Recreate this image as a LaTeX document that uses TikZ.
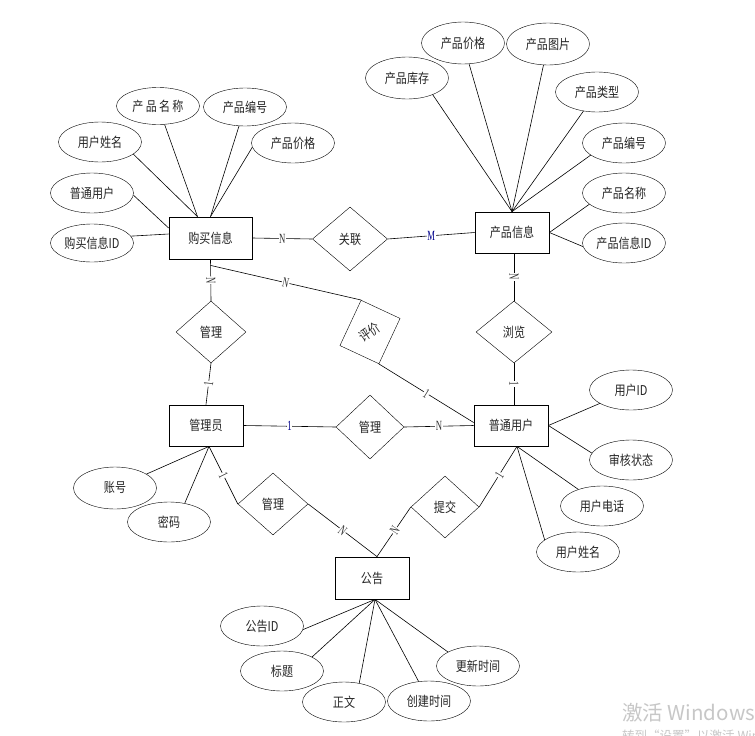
\documentclass[tikz,border=0pt]{standalone}
\usepackage{fontspec}
\setmainfont{Liberation Serif}
\newfontfamily\cjk[FakeStretch=0.82]{Noto Sans CJK SC}
\newfontfamily\cardfont[FakeStretch=0.62]{Liberation Serif}
\newfontfamily\wmfont{Noto Sans CJK SC}
\usetikzlibrary{shapes.geometric,calc}
\tikzset{
  cjktext/.style={font=\cjk\fontsize{13.5}{15}\selectfont, text=black!85},
  ent/.style={draw, thick, rectangle, minimum width=74, minimum height=41, inner sep=0, cjktext},
  rel/.style={draw, diamond, inner sep=0, aspect=1, cjktext},
  attr/.style={draw, ellipse, minimum width=83, minimum height=40, inner sep=0, cjktext},
  conn/.style={draw, line width=0.6pt},
  card/.style={fill=white, inner sep=0.6pt, font=\cardfont\fontsize{14}{14}\selectfont, text=black!80},
  slcard/.style={card, sloped},
}
\begin{document}
\begin{tikzpicture}[x=1pt,y=-1pt]
\useasboundingbox (0,0) rectangle (755,736);
\fill[white] (0,0) rectangle (755,736);

% entities
\node[ent, minimum width=83, minimum height=42] (buy) at (210.5,238) {购买信息};
\node[ent] (pinfo) at (512,232.5) {产品信息};
\node[ent] (admin) at (206,425.5) {管理员};
\node[ent] (user) at (511,425.5) {普通用户};
\node[ent, minimum height=42] (notice) at (372,578) {公告};

% relationships
\node[rel, minimum width=75, minimum height=64] (relate) at (350,239) {关联};
\node[rel, minimum width=70, minimum height=62] (mgrL) at (211,332) {管理};
\node[rel, minimum width=76, minimum height=62] (browse) at (514,332) {浏览};
\node[rel, minimum width=68, minimum height=64] (mgrM) at (370,427) {管理};
\node[rel, minimum width=70, minimum height=62] (mgrB) at (273,504) {管理};
\node[rel, minimum width=68, minimum height=62] (submit) at (445,507) {提交};
\node[draw, rectangle, rotate=-25, minimum width=43, minimum height=50, inner sep=0, cjktext] (eval) at (370,332) {\rotatebox{60}{评价}};

% helper coordinates
\coordinate (bt1) at ($(buy.north)+(-13,0)$);
\coordinate (bl1) at ($(buy.west)+(0,-10)$);
\coordinate (bl2) at ($(buy.west)+(0,-4)$);
\coordinate (bs) at ($(buy.south)+(0,6)$);
\coordinate (ub) at ($(user.south)+(6,0)$);
\coordinate (ab) at ($(admin.south)+(3,0)$);
\coordinate (ntop) at ($(notice.north)+(5,0)$);
\coordinate (nb) at ($(notice.south)+(3,0)$);

% relationship connectors
\path[conn] (buy.east) -- node[card] {N} (relate.west);
\path[conn] (relate.east) -- node[card, text=blue!55!black] {M} (pinfo.west);
\path[conn] (buy.south) -- node[slcard] {N} (mgrL.north);
\path[conn] (mgrL.south) -- node[slcard] {1} (admin.north);
\path[conn] (browse.north |- pinfo.south) -- node[slcard] {N} (browse.north);
\path[conn] (browse.south) -- node[slcard] {1} (browse.south |- user.north);
\path[conn] (admin.east) -- node[card, text=blue!55!black] {1} (mgrM.west);
\path[conn] (mgrM.east) -- node[card] {N} (user.west);
\path[conn] (bs) -- node[slcard] {N} (eval.north west);
\path[conn] (eval.south east) -- node[slcard, pos=0.5] {1} ($(user.west)+(0,-3)$);
\path[conn] (ab) -- node[slcard] {1} (mgrB.west);
\path[conn] (mgrB.east) -- node[slcard] {N} (ntop);
\path[conn] (ntop) -- node[slcard, pos=0.53] {N} (submit.west);
\path[conn] (submit.east) -- node[slcard, pos=0.53] {1} (ub);

% attributes of 购买信息
\node[attr] (a1) at (100,142) {用户姓名};
\node[attr, minimum height=37] (a2) at (158,106) {产\,品\,名\,称};
\node[attr, minimum height=38] (a3) at (245,107) {产品编号};
\node[attr] (a4) at (293,143) {产品价格};
\node[attr] (a5) at (92,193) {普通用户};
\node[attr, minimum height=38] (a6) at (92,243) {购买信息ID};
\draw[conn] (bt1) -- (a1.-20);
\draw[conn] (bt1) -- (a2);
\draw[conn] (buy.north) -- (a3);
\draw[conn] (buy.north) -- (a4.186);
\draw[conn] (bl1) -- (a5.-3);
\draw[conn] (bl2) -- (a6.10);

% attributes of 产品信息
\node[attr, minimum height=42] (b1) at (407,78) {产品库存};
\node[attr, minimum height=42] (b2) at (463,43) {产品价格};
\node[attr, minimum height=42] (b3) at (548,44) {产品图片};
\node[attr] (b4) at (597,92) {产品类型};
\node[attr] (b5) at (624,143) {产品编号};
\node[attr] (b6) at (624,193) {产品名称};
\node[attr] (b7) at (624,243) {产品信息ID};
\draw[conn] (pinfo.north) -- (b1.-33);
\draw[conn] (pinfo.north) -- (b2);
\draw[conn] (pinfo.north) -- (b3);
\draw[conn] (pinfo.north) -- (b4);
\draw[conn] (pinfo.north) -- (b5.200);
\draw[conn] (pinfo.east) -- (b6.198);
\draw[conn] (pinfo.east) -- (b7.185);

% attributes of 普通用户
\node[attr] (c1) at (631,390) {用户ID};
\node[attr] (c2) at (631,460) {审核状态};
\node[attr] (c3) at (602,506) {用户电话};
\node[attr] (c4) at (578,552) {用户姓名};
\draw[conn] (user.east) -- (c1);
\draw[conn] (user.east) -- (c2.170);
\draw[conn] (ub) -- (c3);
\draw[conn] (ub) -- (c4.160);

% attributes of 管理员
\node[attr, minimum height=42] (d1) at (115,488) {账号};
\node[attr] (d2) at (169,522) {密码};
\draw[conn] (ab) -- (d1);
\draw[conn] (ab) -- (d2.50);

% attributes of 公告
\node[attr] (e1) at (262,626) {公告ID};
\node[attr] (e2) at (282,671) {标题};
\node[attr] (e3) at (344,702) {正文};
\node[attr] (e4) at (429,701) {创建时间};
\node[attr] (e5) at (478,666) {更新时间};
\draw[conn] (nb) -- (e1.-5);
\draw[conn] (nb) -- (e2.25);
\draw[conn] (nb) -- (e3.51);
\draw[conn] (nb) -- (e4);
\draw[conn] (nb) -- (e5.155);

% watermark
\begin{scope}
\clip (0,0) rectangle (755,736);
\node[anchor=west, inner sep=0, text=black!22, font=\wmfont\fontsize{20.5}{20}\selectfont] (wm1) at (622,713) {激活 Windows};
\node[anchor=west, inner sep=0, text=black!22, font=\wmfont\fontsize{12.5}{12}\selectfont] (wm2) at (622,736) {转到“设置”以激活 Windows。};
\end{scope}
\end{tikzpicture}
\end{document}
